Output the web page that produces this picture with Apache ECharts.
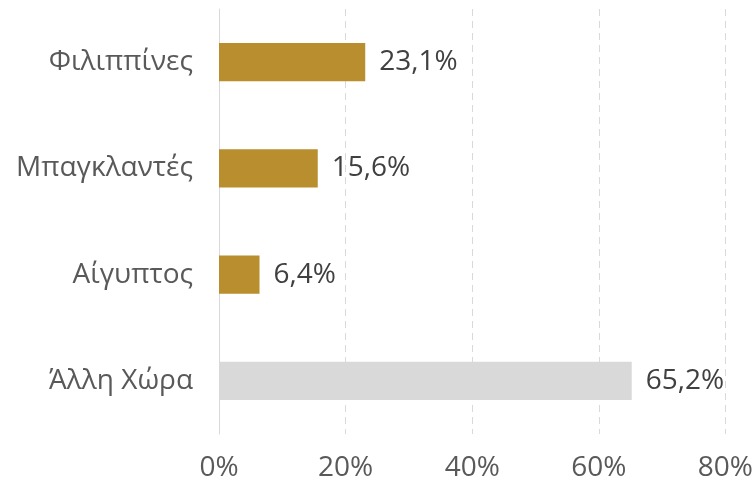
<!DOCTYPE html>
<html><head><meta charset="utf-8">
<script src="https://cdn.jsdelivr.net/npm/echarts@6/dist/echarts.min.js"></script>
<style>html,body{margin:0;padding:0;background:#fff}#c{width:756px;height:487px}</style>
</head><body><div id="c"></div>
<script>
const categories = ['Φιλιππίνες', 'Μπαγκλαντές', 'Αίγυπτος', 'Άλλη Χώρα'];
const values = [23.1, 15.6, 6.4, 65.2];
const barColors = ['#B88E2F', '#B88E2F', '#B88E2F', '#D9D9D9'];
const tickValues = [0, 20, 40, 60, 80];

const font = 'Open Sans';
const chart = echarts.init(document.getElementById('c'), null, {renderer: 'canvas'});
chart.setOption({
  animation: false,
  grid: {left: 219, right: 30, top: 9, bottom: 53, containLabel: false},
  xAxis: {
    type: 'value', min: tickValues[0], max: tickValues[tickValues.length - 1], interval: 20,
    axisLine: {show: false}, axisTick: {show: false},
    splitLine: {show: true, lineStyle: {color: '#D9D9D9', type: [7, 5], width: 1}},
    axisLabel: {formatter: v => v + '%', color: '#595959', fontFamily: font, fontSize: 28, margin: 20}
  },
  yAxis: {
    type: 'category', inverse: true, data: categories,
    axisLine: {show: true, lineStyle: {color: '#D9D9D9', width: 1}},
    axisTick: {show: false},
    axisLabel: {color: '#595959', fontFamily: font, fontSize: 28, margin: 26}
  },
  series: [{
    type: 'bar', barWidth: '36%',
    data: values.map((v, i) => ({value: v, itemStyle: {color: barColors[i]}})),
    label: {show: true, position: 'right', distance: 14, color: '#404040', fontFamily: font, fontSize: 28,
      formatter: p => p.value.toFixed(1).replace('.', ',') + '%'}
  }]
});
</script></body></html>
